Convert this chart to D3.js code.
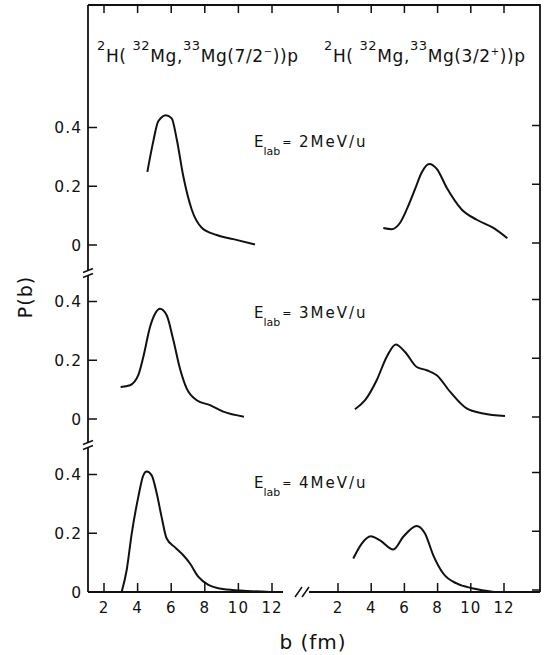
<!DOCTYPE html>
<html>
<head>
<meta charset="utf-8">
<script src="https://cdn.jsdelivr.net/npm/d3@7"></script>
<style>
  body { margin: 0; background: #fff; }
  text { font-family: "DejaVu Sans", sans-serif; fill: #111; }
</style>
</head>
<body>
<div id="d3-container"></div>
<script>
/**
 * DATA
 * */
const bTicks = [2, 4, 6, 8, 10, 12];
const pTicks = [0, 0.2, 0.4];
const pTickLabels = ["0", "0.2", "0.4"];
const energies = ["2", "3", "4"];

// 7/2- state, left half
const left2 = [[4.58,0.249],[4.93,0.352],[5.23,0.421],[5.69,0.442],[6.03,0.431],[6.33,0.360],[6.72,0.234],[7.22,0.121],[7.82,0.059],[8.71,0.034],[9.70,0.020],[10.99,0.002]];
const left3 = [[2.99,0.109],[3.55,0.115],[4.04,0.149],[4.34,0.211],[4.74,0.313],[5.04,0.358],[5.33,0.375],[5.73,0.353],[6.13,0.268],[6.52,0.172],[6.92,0.104],[7.52,0.064],[8.31,0.047],[9.10,0.025],[10.33,0.008]];
const left4 = [[3.05,0.0],[3.35,0.075],[3.65,0.199],[4.04,0.323],[4.34,0.397],[4.54,0.410],[4.84,0.397],[5.14,0.335],[5.43,0.255],[5.73,0.182],[6.23,0.152],[6.72,0.125],[7.12,0.097],[7.61,0.052],[8.21,0.024],[8.90,0.012],[10.1,0.005],[11.9,0.0]];

// 3/2+ state, right half
const right2 = [[4.73,0.058],[5.23,0.054],[5.73,0.075],[6.14,0.121],[6.64,0.190],[7.04,0.247],[7.50,0.276],[7.95,0.259],[8.55,0.195],[9.45,0.121],[10.36,0.086],[11.36,0.058],[12.2,0.023]];
const right3 = [[3.02,0.033],[3.63,0.064],[4.33,0.132],[4.93,0.211],[5.48,0.254],[6.04,0.228],[6.74,0.177],[7.34,0.166],[7.95,0.149],[8.75,0.093],[9.75,0.036],[10.75,0.019],[12.06,0.010]];
const right4 = [[2.92,0.114],[3.43,0.165],[3.97,0.190],[4.53,0.176],[5.33,0.145],[5.93,0.188],[6.74,0.225],[7.24,0.199],[7.74,0.125],[8.34,0.063],[9.15,0.029],[10.15,0.012],[11.4,0.0]];

/**
 * CONSTANTS AND GLOBALS
 * */
const width = 547, height = 655;
const frame = { left: 88, right: 540, top: 5, bottom: 592 };
const zeros = [245, 419, 592]; // y of P=0 in each panel

const svg = d3.select("#d3-container")
  .append("svg")
  .attr("width", width)
  .attr("height", height);

// x scales, one for each half
const xLeft = d3.scaleLinear().domain([2, 12]).range([104, 272]);
const xRight = d3.scaleLinear().domain([2, 12]).range([338, 504]);
// y scales, one per energy
const yScales = zeros.map(z => d3.scaleLinear().domain([0, 0.4]).range([z, z - 117.5]));

const ink = "#111";

// frame: top and right
svg.append("path")
  .attr("d", `M${frame.left},${frame.top}H${frame.right}V${frame.bottom}`)
  .attr("fill", "none").attr("stroke", ink).attr("stroke-width", 1.8);

// left axis with two breaks
const breaksY = [273, 445];
const segY = [[frame.top, breaksY[0] - 3], [breaksY[0] + 3, breaksY[1] - 3], [breaksY[1] + 3, frame.bottom]];
segY.forEach(s => {
  svg.append("line").attr("x1", frame.left).attr("x2", frame.left)
    .attr("y1", s[0]).attr("y2", s[1]).attr("stroke", ink).attr("stroke-width", 1.8);
});
breaksY.forEach(y => {
  [-2.5, 2.5].forEach(o => {
    svg.append("line")
      .attr("x1", frame.left - 5).attr("y1", y + o + 2)
      .attr("x2", frame.left + 5).attr("y2", y + o - 2)
      .attr("stroke", ink).attr("stroke-width", 1.5);
  });
});

// bottom axis with break
svg.append("line").attr("x1", frame.left).attr("x2", 283)
  .attr("y1", frame.bottom).attr("y2", frame.bottom).attr("stroke", ink).attr("stroke-width", 1.8);
svg.append("line").attr("x1", 309).attr("x2", frame.right)
  .attr("y1", frame.bottom).attr("y2", frame.bottom).attr("stroke", ink).attr("stroke-width", 1.8);
[298, 305].forEach(x => {
  svg.append("line")
    .attr("x1", x - 3).attr("y1", frame.bottom + 5)
    .attr("x2", x + 4).attr("y2", frame.bottom - 5)
    .attr("stroke", ink).attr("stroke-width", 1.5);
});

// x ticks (bottom pointing up, top pointing down) and labels
[xLeft, xRight].forEach(sc => {
  svg.append("g").selectAll("line.bt")
    .data(bTicks).join("line")
    .attr("x1", d => sc(d)).attr("x2", d => sc(d))
    .attr("y1", frame.bottom).attr("y2", frame.bottom - 9)
    .attr("stroke", ink).attr("stroke-width", 1.5);
  svg.append("g").selectAll("line.tt")
    .data(bTicks).join("line")
    .attr("x1", d => sc(d)).attr("x2", d => sc(d))
    .attr("y1", frame.top).attr("y2", frame.top + 8)
    .attr("stroke", ink).attr("stroke-width", 1.5);
  svg.append("g").selectAll("text")
    .data(bTicks).join("text")
    .attr("x", d => sc(d)).attr("y", 613)
    .attr("text-anchor", "middle")
    .attr("font-size", 15)
    .attr("letter-spacing", 1)
    .text(d => d);
});

// y ticks on both sides and labels
yScales.forEach(ys => {
  svg.append("g").selectAll("line")
    .data(pTicks).join("line")
    .attr("x1", frame.left).attr("x2", frame.left + 9)
    .attr("y1", d => ys(d)).attr("y2", d => ys(d))
    .attr("stroke", ink).attr("stroke-width", 1.5);
  svg.append("g").selectAll("line")
    .data(pTicks).join("line")
    .attr("x1", frame.right).attr("x2", frame.right - 8)
    .attr("y1", d => ys(d) - 2).attr("y2", d => ys(d) - 2)
    .attr("stroke", ink).attr("stroke-width", 1.5);
  svg.append("g").selectAll("text")
    .data(pTicks).join("text")
    .attr("x", 82).attr("y", d => ys(d) + 5.5)
    .attr("text-anchor", "end")
    .attr("font-size", 15.5)
    .attr("letter-spacing", 1)
    .text((d, i) => pTickLabels[i]);
});

// curves
const curves = [
  [left2, xLeft, 0], [left3, xLeft, 1], [left4, xLeft, 2],
  [right2, xRight, 0], [right3, xRight, 1], [right4, xRight, 2]
];
curves.forEach(([data, xs, i]) => {
  const line = d3.line()
    .x(d => xs(d[0]))
    .y(d => yScales[i](d[1]))
    .curve(d3.curveMonotoneX);
  svg.append("path")
    .attr("d", line(data))
    .attr("fill", "none")
    .attr("stroke", ink)
    .attr("stroke-width", 2);
});

// titles with superscripts: [text, super?]
const title1 = [["2", 1], ["H( ", 0], ["32", 1], ["Mg,", 0], ["33", 1], ["Mg(7/2", 0], ["\u2212", 2], ["))p", 0]];
const title2 = [["2", 1], ["H( ", 0], ["32", 1], ["Mg,", 0], ["33", 1], ["Mg(3/2", 0], ["+", 2], ["))p", 0]];

function drawTitle(parts, x, y) {
  const t = svg.append("text").attr("x", x).attr("y", y)
    .attr("font-size", 17).attr("letter-spacing", 0.6);
  let prev = 0;
  parts.forEach(([s, sup]) => {
    const shift = sup === 1 ? -12 : sup === 2 ? -7 : 0;
    t.append("tspan")
      .attr("dy", shift - prev)
      .attr("font-size", sup === 1 ? 13 : sup === 2 ? 10 : 17)
      .text(s);
    prev = shift;
  });
}
drawTitle(title1, 97, 62);
drawTitle(title2, 324, 62);

// energy labels
const labelY = [147, 318, 488];
energies.forEach((e, i) => {
  const t = svg.append("text").attr("x", 254).attr("y", labelY[i]).attr("font-size", 15);
  t.append("tspan").text("E");
  t.append("tspan").attr("dy", 8).attr("font-size", 11).text("lab");
  t.append("tspan").attr("dy", -9).attr("dx", 2).attr("font-size", 11).text("=");
  t.append("tspan").attr("dy", 1).attr("x", 299).attr("letter-spacing", 2).text(`${e}MeV/u`);
});

// axis titles
svg.append("text")
  .attr("transform", "translate(32,297) rotate(-90)")
  .attr("text-anchor", "middle")
  .attr("font-size", 19)
  .attr("letter-spacing", 1)
  .text("P(b)");

svg.append("text")
  .attr("x", 313).attr("y", 649)
  .attr("text-anchor", "middle")
  .attr("font-size", 20)
  .attr("letter-spacing", 1)
  .text("b (fm)");
</script>
</body>
</html>
